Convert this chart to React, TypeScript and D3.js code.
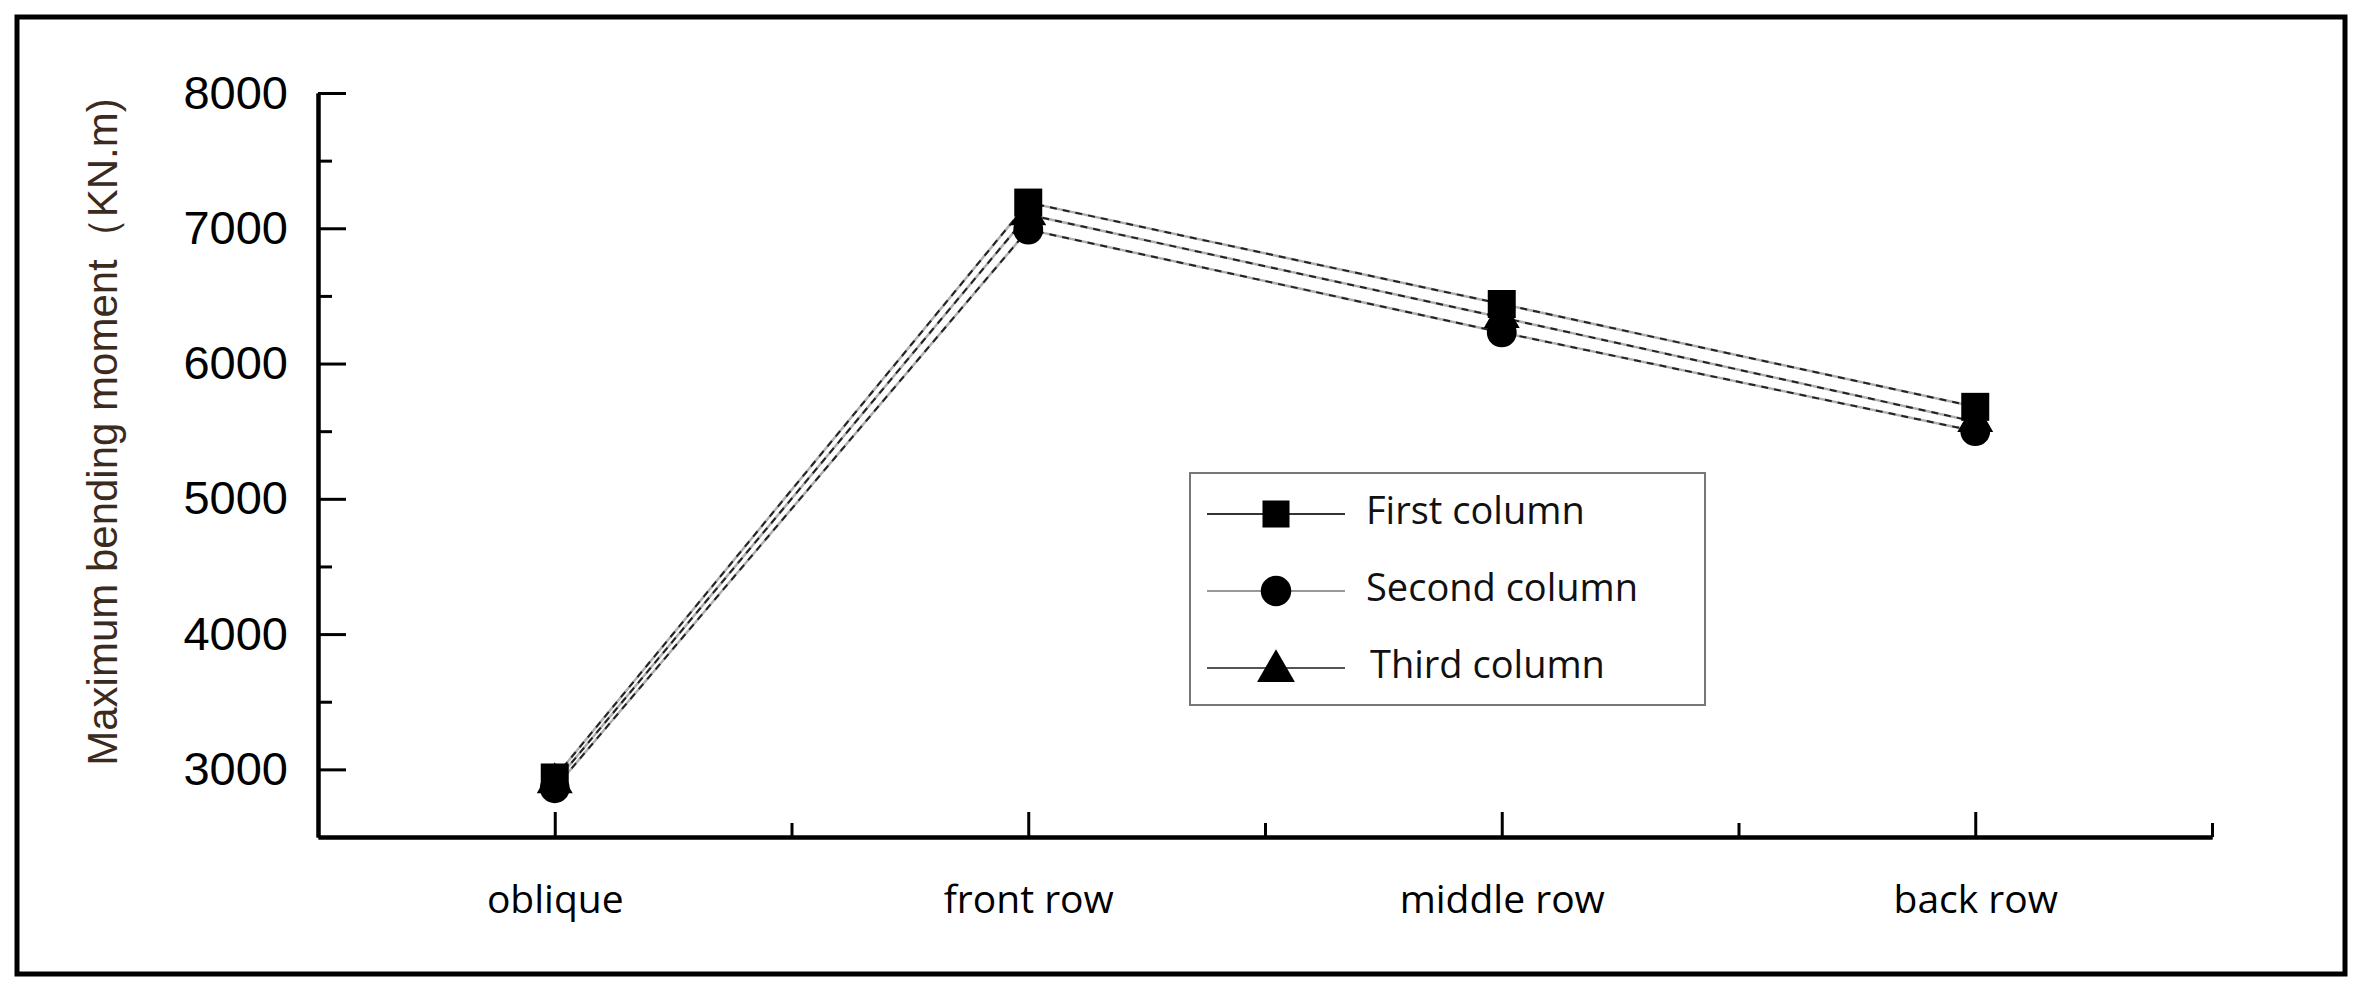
import * as React from "react"
import * as d3 from "d3"

const WIDTH = 2376
const HEIGHT = 999

const categories = ["oblique", "front row", "middle row", "back row"]
const seriesNames = ["First column", "Second column", "Third column"]
const firstColumn = [2940, 7190, 6440, 5680]
const secondColumn = [2860, 6990, 6230, 5500]
const thirdColumn = [2900, 7100, 6340, 5570]
const yMajorTicks = [3000, 4000, 5000, 6000, 7000, 8000]
const yMinorTicks = [3500, 4500, 5500, 6500, 7500]
const xMinorTicks = [1.5, 2.5, 3.5, 4.5]

const margin = { left: 318, right: 2212, top: 93, bottom: 837 }

const x = d3.scaleLinear().domain([0.5, 4.5]).range([margin.left, margin.right])
const y = d3.scaleLinear().domain([2500, 8000]).range([margin.bottom, margin.top])

const series = [
  { name: seriesNames[2], values: thirdColumn, symbol: d3.symbolTriangle, size: 560, legendLine: "#555" },
  { name: seriesNames[1], values: secondColumn, symbol: d3.symbolCircle, size: 700, legendLine: "#999" },
  { name: seriesNames[0], values: firstColumn, symbol: d3.symbolSquare, size: 784, legendLine: "#333" },
]
const legendOrder = [2, 1, 0]

export default function App() {
  const axisRef = React.useRef<SVGGElement>(null)

  React.useEffect(() => {
    const g = d3.select(axisRef.current)
    g.selectAll("*").remove()

    // y axis: major ticks with labels, minor ticks without (ticks point inward)
    const yMinor = g.append("g").attr("transform", `translate(${margin.left},0)`)
    yMinor.call(d3.axisLeft(y).tickValues(yMinorTicks).tickSize(-14).tickSizeOuter(0).tickFormat(() => ""))
    const yMajor = g.append("g").attr("transform", `translate(${margin.left},0)`)
    yMajor.call(
      d3.axisLeft(y).tickValues(yMajorTicks).tickSize(-28).tickSizeOuter(0).tickPadding(30).tickFormat(d3.format("d"))
    )
    yMajor
      .selectAll(".tick text")
      .attr("font-family", "'Liberation Sans', Arial, sans-serif")
      .attr("font-size", 47)
      .attr("fill", "#000")

    // x axis: ticks point up into the plot
    const xMinor = g.append("g").attr("transform", `translate(0,${margin.bottom})`)
    xMinor.call(d3.axisBottom(x).tickValues(xMinorTicks).tickSize(-14).tickSizeOuter(0).tickFormat(() => ""))
    const xMajor = g.append("g").attr("transform", `translate(0,${margin.bottom})`)
    xMajor.call(
      d3
        .axisBottom(x)
        .tickValues([1, 2, 3, 4])
        .tickSize(-25)
        .tickSizeOuter(0)
        .tickPadding(48)
        .tickFormat((d) => categories[(d as number) - 1])
    )
    xMajor
      .selectAll(".tick text")
      .attr("font-family", "'Open Sans', 'Noto Sans', sans-serif")
      .attr("font-size", 39)
      .attr("fill", "#000")

    g.selectAll(".domain").attr("stroke-width", 4).attr("stroke", "#000")
    g.selectAll(".tick line").attr("stroke-width", 3).attr("stroke", "#000")
  }, [])

  const line = d3
    .line<number>()
    .x((_, i) => x(i + 1))
    .y((d) => y(d))

  const legendX = 1190
  const legendY = 473
  const legendRows = [514, 591, 668]

  return (
    <div>
      <style>{`body{margin:0;background:#fff}`}</style>
      <svg width={WIDTH} height={HEIGHT} style={{ display: "block" }}>
        <rect x={0} y={0} width={WIDTH} height={HEIGHT} fill="#fff" />
        <rect x={17} y={17} width={2328} height={957} fill="none" stroke="#000" strokeWidth={5} />

        <text
          transform={`translate(106,432) rotate(-90)`}
          textAnchor="middle"
          dominantBaseline="middle"
          fontFamily="'Liberation Sans', Arial, sans-serif"
          fontSize={42}
          fill="#3b2a1e"
        >
          Maximum bending moment（KN.m)
        </text>

        <g ref={axisRef} />

        {series.map((s) => (
          <g key={s.name}>
            <path d={line(s.values) ?? ""} fill="none" stroke="#b0b0b0" strokeWidth={2.5} />
            <path d={line(s.values) ?? ""} fill="none" stroke="#222" strokeWidth={2} strokeDasharray="7 6" />
          </g>
        ))}
        {series.map((s) => (
          <g key={s.name + "-pts"}>
            {s.values.map((v, i) => (
              <path
                key={i}
                transform={`translate(${x(i + 1)},${y(v)})`}
                d={d3.symbol(s.symbol, s.size)() ?? ""}
                fill="#000"
              />
            ))}
          </g>
        ))}

        <g>
          <rect x={legendX} y={legendY} width={515} height={232} fill="#fff" stroke="#777" strokeWidth={2} />
          {legendOrder.map((si, row) => {
            const s = series[si]
            const cy = legendRows[row]
            return (
              <g key={s.name}>
                <line x1={1207} x2={1345} y1={cy} y2={cy} stroke={s.legendLine} strokeWidth={2} />
                <path
                  transform={`translate(1276,${cy + (s.symbol === d3.symbolTriangle ? 3 : 0)})`}
                  d={d3.symbol(s.symbol, s.symbol === d3.symbolTriangle ? 620 : 730)() ?? ""}
                  fill="#000"
                />
                <text
                  x={row === 2 ? 1370 : 1366}
                  y={cy}
                  dominantBaseline="middle"
                  fontFamily="'Open Sans', 'Noto Sans', sans-serif"
                  fontSize={38}
                  fill="#111"
                >
                  {s.name}
                </text>
              </g>
            )
          })}
        </g>
      </svg>
    </div>
  )
}
